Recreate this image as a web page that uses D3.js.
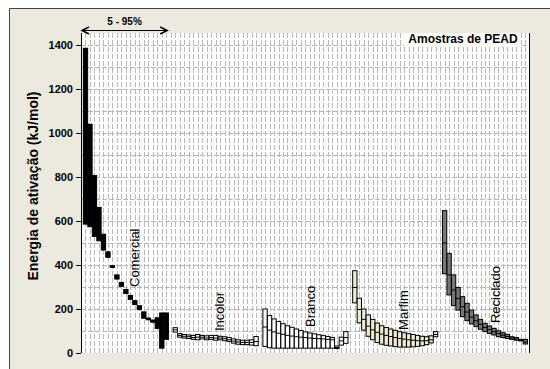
<!DOCTYPE html>
<html><head><meta charset="utf-8">
<script src="https://cdn.jsdelivr.net/npm/d3@7/dist/d3.min.js"></script>
<style>body{margin:0;background:#fff}svg{display:block}</style>
</head><body>
<svg id="c" width="550" height="369"></svg>
<script>
// ---- data ----
const groups = ["Comercial", "Incolor", "Branco", "Marfim", "Reciclado"];
const conversions = [5,10,15,20,25,30,35,40,45,50,55,60,65,70,75,80,85,90,95];
const yTicks = [0, 200, 400, 600, 800, 1000, 1200, 1400];

const comercialLow  = [586, 574, 530, 510, 468, 435, 389, 336, 303, 270, 244, 220, 197, 158, 151, 140, 112, 22, 62];
const comercialMed  = [900, 800, 650, 580, 500, 447, 393, 346, 312, 279, 253, 229, 206, 172, 155, 145, 135, 110, 120];
const comercialHigh = [1385, 1040, 807, 662, 540, 460, 397, 355, 321, 289, 262, 238, 215, 187, 159, 150, 160, 182, 182];

const incolorLow  = [95, 72, 68, 66, 62, 60, 64, 60, 62, 58, 60, 56, 52, 45, 40, 38, 38, 36, 33];
const incolorMed  = [105, 80, 76, 74, 70, 72, 72, 68, 70, 68, 68, 65, 60, 54, 50, 48, 48, 48, 52];
const incolorHigh = [115, 88, 84, 82, 80, 84, 80, 78, 80, 80, 76, 74, 70, 64, 60, 58, 58, 60, 75];

const brancoLow  = [30, 24, 22, 22, 22, 22, 22, 22, 22, 22, 22, 22, 22, 22, 22, 22, 20, 36, 44];
const brancoMed  = [118, 104, 96, 90, 85, 80, 77, 74, 72, 70, 68, 66, 65, 64, 62, 60, 25, 55, 70];
const brancoHigh = [200, 170, 155, 143, 133, 124, 117, 109, 102, 96, 91, 87, 83, 79, 75, 70, 32, 72, 97];

const marfimLow  = [228, 137, 104, 76, 60, 48, 40, 35, 32, 29, 27, 27, 27, 28, 30, 33, 38, 46, 74];
const marfimMed  = [298, 198, 153, 122, 105, 94, 86, 80, 75, 70, 66, 63, 60, 58, 56, 55, 56, 60, 84];
const marfimHigh = [374, 249, 200, 173, 153, 136, 124, 116, 109, 103, 97, 92, 88, 84, 80, 76, 74, 78, 97];

const recicladoLow  = [360, 264, 215, 195, 165, 147, 132, 120, 108, 97, 89, 82, 74, 70, 66, 62, 58, 55, 41];
const recicladoMed  = [500, 355, 286, 248, 210, 186, 163, 146, 130, 116, 106, 97, 88, 81, 75, 68, 64, 58, 50];
const recicladoHigh = [647, 453, 355, 298, 256, 226, 195, 173, 153, 135, 123, 112, 101, 92, 85, 74, 70, 62, 62];

// ---- styles / layout ----
const fills = ["#000000", "#f6f6f6", "#ffffff", "#efead2", "#777777"];
const labelPos = [13.0, 31.8, 52.1, 72.8, 93.3];
const labelBase = [300, 100, 118, 105, 136];
const FONT = "'Liberation Sans', Arial, sans-serif";

const series = [
  [comercialLow, comercialMed, comercialHigh],
  [incolorLow, incolorMed, incolorHigh],
  [brancoLow, brancoMed, brancoHigh],
  [marfimLow, marfimMed, marfimHigh],
  [recicladoLow, recicladoMed, recicladoHigh]
];
const rows = [];
groups.forEach((g, gi) => {
  conversions.forEach((c, j) => {
    rows.push({group: g, gi, pos: gi * 20 + j + 1,
      low: series[gi][0][j], med: series[gi][1][j], high: series[gi][2][j]});
  });
});

const svg = d3.select("#c");
const L = 81, R = 529, T = 33, B = 353;
const x = d3.scaleLinear().domain([0, 99.8]).range([L, R]);
const y = d3.scaleLinear().domain([0, 1400]).range([B, 45]);
const slot = x(1) - x(0);

// background frame
svg.append("rect").attr("x", 0).attr("y", 0).attr("width", 550).attr("height", 369).attr("fill", "#ffffff");
svg.append("rect").attr("x", 9).attr("y", 8).attr("width", 541).attr("height", 361).attr("fill", "#ece9df");
svg.append("path").attr("d", "M9.5,369V8.5H550").attr("fill", "none").attr("stroke", "#444").attr("stroke-width", 1);

// plot area
svg.append("rect").attr("x", L).attr("y", T).attr("width", R - L).attr("height", B - T).attr("fill", "#fff");

const grid = svg.append("g");
grid.selectAll("line.v").data(d3.range(1, 100)).join("line")
  .attr("x1", d => Math.round(x(d)) + 0.5).attr("x2", d => Math.round(x(d)) + 0.5)
  .attr("y1", T).attr("y2", B)
  .attr("stroke", "#b9b9b9").attr("stroke-width", 1).attr("stroke-dasharray", "5,2");
grid.selectAll("line.h").data(d3.range(100, 1500, 100)).join("line")
  .attr("x1", L).attr("x2", R)
  .attr("y1", d => Math.round(y(d)) + 0.5).attr("y2", d => Math.round(y(d)) + 0.5)
  .attr("stroke", "#b9b9b9").attr("stroke-width", 1).attr("stroke-dasharray", "5,2");

// title box
svg.append("rect").attr("x", 404).attr("y", T).attr("width", 117).attr("height", 14).attr("fill", "#fff");
svg.append("text").attr("x", 463).attr("y", 43).attr("text-anchor", "middle")
  .attr("font-family", FONT).attr("font-weight", "bold").attr("font-size", 12).attr("fill", "#000")
  .text("Amostras de PEAD");

// boxes
const bw = slot * 0.96;
const boxes = svg.append("g");
boxes.selectAll("rect").data(rows).join("rect")
  .attr("x", d => x(d.pos) - bw / 2).attr("width", bw)
  .attr("y", d => y(d.high)).attr("height", d => Math.max(1, y(d.low) - y(d.high)))
  .attr("fill", d => fills[d.gi]).attr("stroke", "#000").attr("stroke-width", 1);
boxes.selectAll("line").data(rows).join("line")
  .attr("x1", d => x(d.pos) - bw / 2).attr("x2", d => x(d.pos) + bw / 2)
  .attr("y1", d => y(d.med)).attr("y2", d => y(d.med))
  .attr("stroke", "#000").attr("stroke-width", 1);

// axes
const ax = svg.append("g").attr("transform", `translate(${L},0)`)
  .call(d3.axisLeft(y).tickValues(yTicks).tickFormat(d3.format("d")).tickSize(5).tickPadding(3));
ax.select(".domain").remove();
ax.selectAll("text").attr("font-family", FONT).attr("font-weight", "bold").attr("font-size", 11).attr("fill", "#000");
ax.selectAll("line").attr("stroke", "#000");
svg.append("line").attr("x1", L + 0.5).attr("x2", L + 0.5).attr("y1", T).attr("y2", B).attr("stroke", "#000");
svg.append("line").attr("x1", R + 0.5).attr("x2", R + 0.5).attr("y1", T).attr("y2", B).attr("stroke", "#000");

// y label
svg.append("text").attr("transform", `translate(37.5,186) rotate(-90)`).attr("text-anchor", "middle")
  .attr("font-family", FONT).attr("font-weight", "bold").attr("font-size", 14).attr("fill", "#000")
  .text("Energia de ativação (kJ/mol)");

// group labels
svg.append("g").selectAll("text").data(groups).join("text")
  .attr("transform", (d, i) => `translate(${x(labelPos[i])},${y(labelBase[i])}) rotate(-90)`)
  .attr("font-family", FONT).attr("font-size", 13).attr("fill", "#000")
  .text(d => d);

// 5 - 95% arrow
const ay = 30.5, ax0 = x(0) + 1, ax1 = x(19.2);
svg.append("line").attr("x1", ax0).attr("x2", ax1).attr("y1", ay).attr("y2", ay).attr("stroke", "#000").attr("stroke-width", 1.2);
svg.append("path").attr("d", `M${ax0 + 7},${ay - 3.5}L${ax0},${ay}L${ax0 + 7},${ay + 3.5}M${ax1 - 7},${ay - 3.5}L${ax1},${ay}L${ax1 - 7},${ay + 3.5}`)
  .attr("fill", "none").attr("stroke", "#000").attr("stroke-width", 1.5);
svg.append("text").attr("x", (ax0 + ax1) / 2).attr("y", 25).attr("text-anchor", "middle")
  .attr("font-family", FONT).attr("font-weight", "bold").attr("font-size", 10).attr("fill", "#000")
  .text("5 - 95%");
</script>
</body></html>
